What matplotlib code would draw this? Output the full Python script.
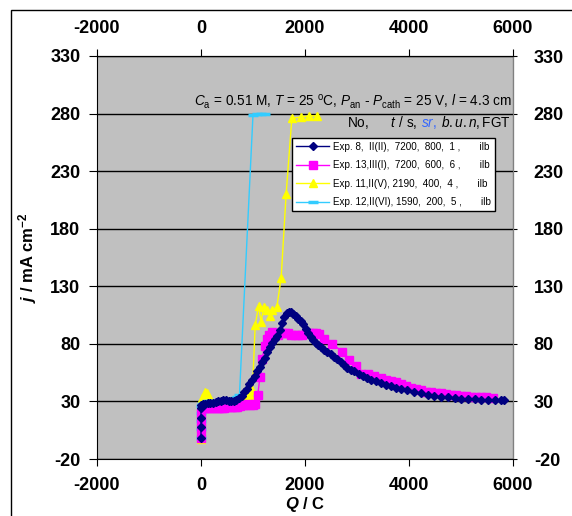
import matplotlib.pyplot as plt
from matplotlib.patches import Rectangle
import numpy as np

plt.rcParams['font.family'] = ['Liberation Sans', 'DejaVu Sans']
plt.rcParams['mathtext.fontset'] = 'custom'
plt.rcParams['mathtext.rm'] = 'Liberation Sans'
plt.rcParams['mathtext.it'] = 'Liberation Sans:italic'
plt.rcParams['mathtext.bf'] = 'Liberation Sans:bold'
plt.rcParams['mathtext.bfit'] = 'Liberation Sans:italic:bold'
plt.rcParams['axes.unicode_minus'] = False

# Exp. 8 (navy diamonds)
q8 = [0, 0, 0, 0, 5, 30, 80, 130, 180, 230, 280, 330, 380, 430, 480, 530, 580, 630, 680,
      730, 780, 830, 880, 930, 985, 1035, 1080, 1130, 1180, 1225, 1270, 1320, 1370, 1420,
      1466, 1510, 1560, 1600, 1646, 1700, 1723, 1770, 1820, 1870, 1916, 1960, 2013, 2060,
      2110, 2160, 2205, 2250, 2302, 2370, 2431, 2500, 2560, 2620, 2688, 2750, 2817, 2880,
      2945, 3030, 3106, 3190, 3267, 3360, 3460, 3560, 3653, 3750, 3846, 3970, 4100, 4230,
      4360, 4490, 4617, 4745, 4875, 5000, 5132, 5260, 5389, 5520, 5646, 5760, 5830]
j8 = [-2, 8, 16, 24, 27, 28, 28, 28.5, 29, 29, 29.5, 30, 30.5, 31, 31, 30.5, 30, 30.5, 31.5,
      33, 35, 38, 41, 45, 49, 52, 56, 60, 64, 68, 73, 77, 81, 84,
      87, 92, 98, 103, 107, 108, 108, 106, 104, 102, 100, 97, 93, 89,
      86, 83, 81, 79, 77, 75, 73, 71, 69, 66.5, 64, 61.5, 59, 57.5,
      56, 54, 52, 50.5, 49, 47.5, 46, 44.5, 43, 42, 41, 39.5, 38, 37,
      36, 35, 34, 33.5, 33, 32.5, 32, 31.8, 31.5, 31.2, 31, 31, 31]

# Exp. 13 (magenta squares)
q13 = [0, 0, 0, 0, 10, 50, 100, 150, 200, 250, 300, 350, 400, 450, 500, 550, 600, 650, 700,
       750, 800, 850, 900, 950, 1000, 1048, 1093, 1132, 1177, 1222, 1260, 1305, 1370, 1430,
       1490, 1550, 1610, 1680, 1740, 1800, 1870, 1940, 2010, 2080, 2150, 2210, 2270, 2367,
       2527, 2720, 2849, 2977, 3074, 3203, 3331, 3460, 3560, 3653, 3750, 3846, 3940, 4039,
       4135, 4232, 4330, 4424, 4520, 4617, 4710, 4810, 4905, 5003, 5100, 5196, 5290, 5390,
       5490, 5614]
j13 = [-2, 6, 13, 20, 24, 24, 24, 24, 24, 24, 24, 24.5, 24.5, 24.5, 25, 25, 25, 25.5, 25.5,
       26, 26.5, 27, 27.5, 27, 27, 28, 36, 51, 67, 78, 84, 88, 90, 89,
       88, 89, 89.5, 89, 88, 88, 87.5, 88, 89, 89, 89, 89, 88.5, 84,
       80, 73, 66, 61, 54, 54, 52, 50, 49, 48, 46.5, 45, 43.5, 42,
       40.5, 39.5, 38.5, 38, 37.5, 37, 36.5, 36, 35.5, 35, 34.5, 34, 34, 33.5,
       33.5, 33]

# Exp. 11 (yellow triangles)
q11 = [0, 0, 0, 0, 0, 20, 50, 85, 115, 150, 190, 240, 290, 340, 390, 440, 490, 540, 590,
       640, 690, 740, 790, 840, 890, 940, 990, 1042, 1106, 1157, 1202, 1266, 1330, 1362,
       1458, 1541, 1637, 1747, 1919, 2079, 2238]
j11 = [-3, 5, 12, 20, 27, 33, 36, 38, 37, 34, 30, 28, 28, 27.5, 27.5, 28, 28, 28.5, 28.5,
       29, 29, 29.5, 30, 31, 33, 36, 40, 96, 113, 99, 112, 109, 104, 109,
       112, 137, 210, 276, 277, 278, 278]

# Exp. 12 (light blue dashes)
q12 = [0, 0, 0, 0, 0, 20, 60, 110, 160, 210, 260, 310, 360, 410, 460, 510, 560, 610, 660,
       700, 740, 1000, 1080, 1160, 1240]
j12 = [-2, 6, 13, 20, 26, 28, 29, 30, 30.5, 30, 29.5, 29, 29, 29.5, 30, 30.5, 31, 32, 33,
       34, 36, 279, 280, 280, 280]

labels = ['Exp. 8,  II(II),  7200,  800,  1 ,       ilb',
          'Exp. 13,III(I),  7200,  600,  6 ,       ilb',
          'Exp. 11,II(V), 2190,  400,  4 ,       ilb',
          'Exp. 12,II(VI), 1590,  200,  5 ,       ilb']

xticks = [-2000, 0, 2000, 4000, 6000]
yticks = [-20, 30, 80, 130, 180, 230, 280, 330]

W, H = 572, 516
fig = plt.figure(figsize=(W / 100, H / 100), dpi=100)
ax = fig.add_axes([97 / W, 1 - 459 / H, 416 / W, 403 / H])
ax.set_facecolor('#C0C0C0')

fig.patches.append(Rectangle((11 / W, -0.5), 2, 0.5 + 1 - 10 / H, fill=False,
                             edgecolor='black', lw=1, transform=fig.transFigure))

for y in yticks:
    ax.axhline(y, color='black', lw=1, zorder=1)

ax.plot(q8, j8, color='#000080', marker='D', ms=4.5, lw=1, label=labels[0], zorder=5)
ax.plot(q13, j13, color='#FF00FF', marker='s', ms=5.5, lw=1, label=labels[1], zorder=4)
ax.plot(q11, j11, color='#FFFF00', marker='^', ms=6, lw=1, label=labels[2], zorder=3)
ax.plot(q12, j12, color='#33CCFF', marker='_', ms=7, mew=2.5, lw=1, label=labels[3], zorder=3)

ax.set_xlim(-2000, 6000)
ax.set_ylim(-20, 330)
ax.set_xticks(xticks)
ax.set_yticks(yticks)
ax.tick_params(axis='x', direction='out', length=5, pad=8, labelsize=13)
ax.tick_params(axis='y', direction='out', length=6, pad=6, labelsize=13)
for lab in ax.get_xticklabels() + ax.get_yticklabels():
    lab.set_fontweight('bold')
for s in ax.spines.values():
    s.set_color('black')
ax.spines['right'].set_color('#808080')

top = ax.secondary_xaxis('top')
top.set_xticks(xticks)
top.tick_params(direction='out', length=5, pad=9, labelsize=13)
right = ax.secondary_yaxis('right')
right.set_yticks(yticks)
right.tick_params(direction='out', length=3, pad=12, labelsize=13)
for lab in top.get_xticklabels() + right.get_yticklabels():
    lab.set_fontweight('bold')

ax.set_xlabel(r'$\mathbfit{Q}$ / C', fontsize=12, fontweight='bold', labelpad=1)
ax.set_ylabel(r'$\mathbfit{j}$ / mA cm$^{\mathbf{-2}}$', fontsize=12, fontweight='bold', labelpad=8)

ax.text(5970, 286, r'$C_\mathrm{a}$ = 0.51 M, $T$ = 25 $^\mathrm{o}$C, $P_\mathrm{an}$ - '
        r'$P_\mathrm{cath}$ = 25 V, $l$ = 4.3 cm', ha='right', va='baseline', fontsize=9.8)
ax.text(2800, 268, r'No,      $t$ / s,', ha='left', va='baseline', fontsize=9.8)
ax.text(4230, 268, r'$sr$,', ha='left', va='baseline', fontsize=9.8, color='#3366FF')
ax.text(4610, 268, r'$b.u.n,$FGT', ha='left', va='baseline', fontsize=9.8)

leg = ax.legend(loc='upper right', bbox_to_anchor=(0.969, 0.809), fontsize=7.1,
                frameon=True, fancybox=False, framealpha=1, edgecolor='black',
                handlelength=3.4, labelspacing=0.85, borderpad=0.4, handletextpad=0.4)
leg.get_frame().set_linewidth(1)

fig.savefig('out.png', dpi=100)
